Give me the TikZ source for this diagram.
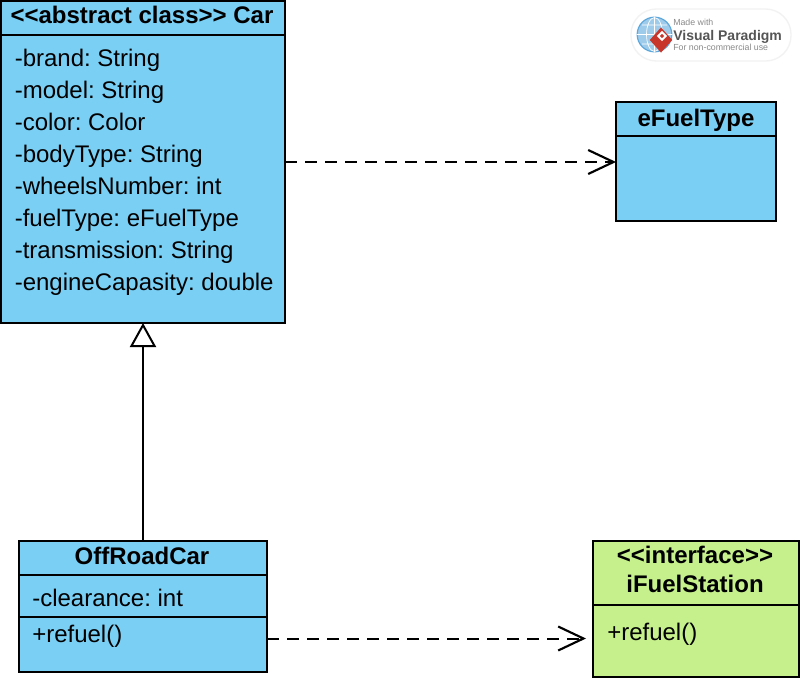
\documentclass[tikz,border=0pt]{standalone}
\usepackage{fontspec}
\setmainfont{Liberation Sans}
\usetikzlibrary{arrows.meta,calc,shapes.geometric}
\definecolor{classblue}{HTML}{7ACFF5}
\definecolor{ifacegreen}{HTML}{C6F08C}
\definecolor{vpgrey}{HTML}{555555}
\definecolor{vpsoft}{HTML}{8A8A8A}
\definecolor{vpred}{HTML}{C8352B}
\definecolor{vpglobe}{HTML}{5FA8DC}
\frenchspacing
\tikzset{
  x=0.75pt,y=-0.75pt,
  cbox/.style={draw=black,line width=1.5pt,fill=classblue,rectangle,inner sep=0pt,outer sep=0pt},
  ibox/.style={cbox,fill=ifacegreen},
  sep/.style={draw=black,line width=1.5pt},
  head/.style={font=\fontsize{18}{21}\selectfont\bfseries,inner sep=0pt,align=center},
  attr/.style={font=\fontsize{18}{21}\selectfont,inner sep=0pt,anchor=base west},
  dep/.style={draw=black,line width=1.5pt,dash pattern=on 9pt off 6pt,-{Straight Barb[length=19pt,width=18pt,line width=1.6pt]}},
  gen/.style={draw=black,line width=1.5pt,-{Triangle[open,length=18pt,width=19.5pt,line width=1.5pt,fill=white]}},
  vpsmall/.style={font=\fontsize{6.6}{8}\selectfont,text=vpsoft,inner sep=0pt,anchor=base west},
}
\begin{document}
\begin{tikzpicture}
\useasboundingbox (0,0) rectangle (800,678);
\fill[white] (0,0) rectangle (800,678);
% boxes
\node[cbox,minimum width=213pt,minimum height=241.5pt] (car) at (143,162) {};
\node[cbox,minimum width=120pt,minimum height=89.25pt] (fuel) at (696,161.5) {};
\node[cbox,minimum width=186pt,minimum height=98.25pt] (off) at (143,606.5) {};
\node[ibox,minimum width=154.5pt,minimum height=102pt] (station) at (696,609) {};
% compartments
\draw[sep] (car.west |- 0,35) -- (car.east |- 0,35);
\draw[sep] (fuel.west |- 0,136) -- (fuel.east |- 0,136);
\draw[sep] (off.west |- 0,575) -- (off.east |- 0,575);
\draw[sep] (off.west |- 0,617) -- (off.east |- 0,617);
\draw[sep] (station.west |- 0,605) -- (station.east |- 0,605);
% headers
\node[head,anchor=base] (carH) at (142,23) {<{}<abstract class>{}> Car};
\node[head,anchor=base] (fuelH) at (696,126) {eFuelType};
\node[head,anchor=base] (offH) at (142,564) {OffRoadCar};
\node[head,anchor=base] (stationH1) at (695,563) {<{}<interface>{}>};
\node[head,anchor=base] (stationH2) at (695,592) {iFuelStation};
% attributes
\node[attr] (a1) at (14.5,66) {-brand: String};
\node[attr] (a2) at (14.5,98) {-model: String};
\node[attr] (a3) at (14.5,130) {-color: Color};
\node[attr] (a4) at (14.5,162) {-bodyType: String};
\node[attr] (a5) at (14.5,194) {-wheelsNumber: int};
\node[attr] (a6) at (14.5,226) {-fuelType: eFuelType};
\node[attr] (a7) at (14.5,258) {-transmission: String};
\node[attr] (a8) at (14.5,290) {-engineCapasity: double};
\node[attr] (o1) at (32,606) {-clearance: int};
\node[attr] (o2) at (32,642) {+refuel()};
\node[attr] (s1) at (607,640) {+refuel()};
% connectors
\draw[gen] (off.north) -- (car.south);
\draw[dep] (car.east) -- (car.east -| fuel.west);
\coordinate (depS) at ($(off.east)+(0,32)$);
\coordinate (depE) at (586,638.5);
\draw[dep] (depS) -- (depE);
% badge
\node[draw=black!5,line width=1pt,fill=white,rounded corners=19pt,minimum width=120pt,minimum height=39pt,inner sep=0pt] (badge) at (711,35) {};
\node[circle,draw=vpglobe,line width=0.9pt,fill=vpglobe!60,minimum size=26pt,inner sep=0pt] (globe) at (654.5,34.5) {};
\draw[white,line width=0.5pt] (globe.west) -- (globe.east) (globe.north) -- (globe.south)
  (globe.center) ellipse (8 and 17)
  (642,25) -- (667,25) (642,44) -- (667,44);
\node[diamond,aspect=0.9,fill=vpred,minimum width=17pt,minimum height=19pt,inner sep=0pt] (dia) at (661,40) {};
\node[diamond,aspect=1,fill=white,minimum size=8pt,inner sep=0pt] (diaIn) at (662,36) {};
\node[diamond,aspect=1,fill=vpred,minimum size=3.5pt,inner sep=0pt] (diaDot) at (662,36) {};
\node[vpsmall] (b1) at (673,25) {Made with};
\node[font=\fontsize{10.5}{12}\selectfont\bfseries,text=vpgrey,inner sep=0pt,anchor=base west] (b2) at (673,40) {Visual Paradigm};
\node[vpsmall] (b3) at (673,50) {For non-commercial use};
\end{tikzpicture}
\end{document}
